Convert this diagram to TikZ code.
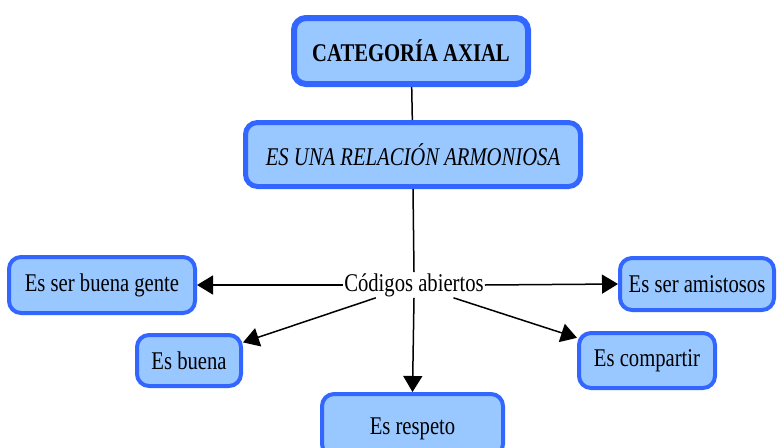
\documentclass[tikz,border=0pt]{standalone}
\usepackage{fontspec}
\setmainfont{Liberation Serif}[FakeStretch=0.81]
\usetikzlibrary{arrows.meta}
\definecolor{boxfill}{RGB}{153,199,255}
\definecolor{boxline}{RGB}{51,102,255}
\tikzset{
  txt/.style={font=\fontsize{25.5}{29}\selectfont},
  cbox/.style={draw=boxline, fill=boxfill, line width=4pt, rounded corners=12pt,
    txt, inner sep=0pt, align=center},
  conn/.style={line width=1.5pt, draw=black},
  arr/.style={conn, -{Triangle[length=16pt,width=19pt]}},
}
\begin{document}
\begin{tikzpicture}[x=1pt,y=-1pt]
\useasboundingbox (0,0) rectangle (778,447);
\node[cbox, line width=6pt, minimum width=234pt, minimum height=66pt, font=\fontsize{25.5}{29}\selectfont\bfseries] (top) at (411,51) {CATEGORÍA AXIAL};
\node[cbox, line width=5pt, minimum width=335pt, minimum height=64pt, font=\fontsize{25.5}{29}\selectfont\itshape] (rel) at (413,154.5) {ES UNA RELACIÓN ARMONIOSA};
\node[txt, inner sep=1pt] (cod) at (414,285) {Códigos abiertos};
\node[cbox, minimum width=186pt, minimum height=56pt] (sbg) at (102,285) {Es ser buena gente};
\node[cbox, minimum width=154pt, minimum height=52pt] (sam) at (697,284) {Es ser amistosos};
\node[cbox, minimum width=104pt, minimum height=51pt] (buena) at (189,360.5) {Es buena};
\node[cbox, minimum width=136pt, minimum height=55pt] (comp) at (647,360.5) {Es compartir};
\node[cbox, minimum width=181pt, minimum height=62pt, text depth=0pt] (resp) at (412.5,425) {\raisebox{-3pt}{Es respeto}};
\draw[conn] (top) -- (rel);
\draw[conn] (rel.south) -- (cod.north);
\draw[arr] (cod.west) -- (sbg.east);
\draw[arr] (cod.east) -- (sam.west);
\draw[arr] (cod) -- (buena);
\draw[arr] (cod) -- (comp);
\draw[arr] (cod.south) -- (resp.north);
\end{tikzpicture}
\end{document}
